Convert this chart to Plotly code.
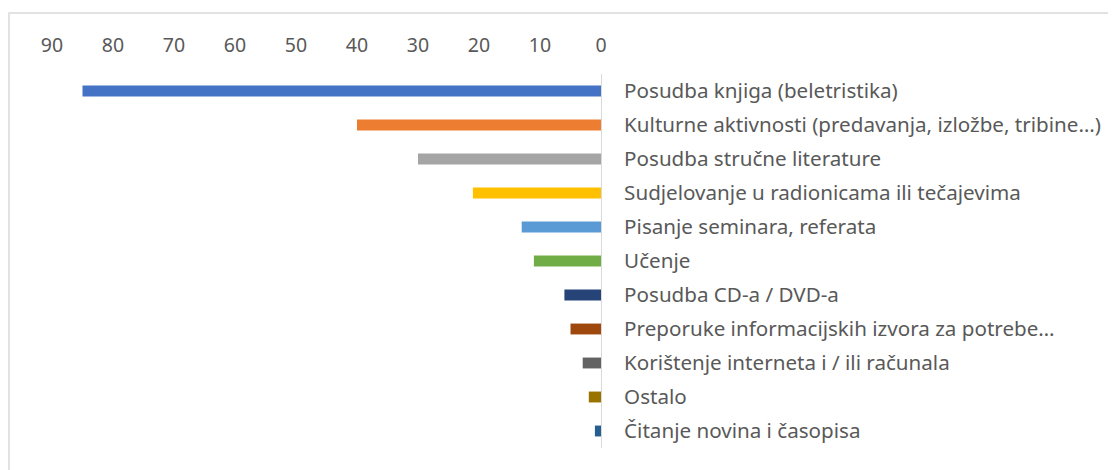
import plotly.graph_objects as go

categories = [
    "Posudba knjiga (beletristika)",
    "Kulturne aktivnosti (predavanja, izložbe, tribine…)",
    "Posudba stručne literature",
    "Sudjelovanje u radionicama ili tečajevima",
    "Pisanje seminara, referata",
    "Učenje",
    "Posudba CD-a / DVD-a",
    "Preporuke informacijskih izvora za potrebe…",
    "Korištenje interneta i / ili računala",
    "Ostalo",
    "Čitanje novina i časopisa",
]
values = [85, 40, 30, 21, 13, 11, 6, 5, 3, 2, 1]
colors = ["#4472C4", "#ED7D31", "#A5A5A5", "#FFC000", "#5B9BD5", "#70AD47",
          "#264478", "#9E480E", "#636363", "#997300", "#255E91"]
tick_vals = [0, 10, 20, 30, 40, 50, 60, 70, 80, 90]

W, H = 1116, 470
OFF = 8  # page body margin
L, R, T, B = 52 - OFF, 601 - OFF, 74 - OFF, 448 - OFF

fig = go.Figure(go.Bar(
    x=values, y=categories, orientation="h",
    marker=dict(color=colors, line=dict(width=0)),
    width=0.32,
))

fig.update_layout(
    width=W, height=H,
    margin=dict(l=L, r=W - R, t=T, b=H - B),
    paper_bgcolor="white", plot_bgcolor="white",
    showlegend=False,
    font=dict(family="Noto Sans", color="#595959", size=20),
    xaxis=dict(
        range=[90, 0], side="top", tickvals=tick_vals,
        showgrid=False, zeroline=False, showline=False,
        ticks="", tickfont=dict(size=19.5, color="#595959"),
        ticklabelstandoff=17,
    ),
    yaxis=dict(
        categoryorder="array", categoryarray=categories[::-1],
        side="right", showgrid=False, zeroline=False,
        showline=True, linecolor="#d9d9d9", linewidth=1,
        ticks="", ticklabelstandoff=18,
        tickfont=dict(size=20.6, color="#595959"),
        range=[-0.5, 10.5],
    ),
)

# chart border
fig.add_shape(
    type="rect", xref="paper", yref="paper",
    x0=(1 - L) / (R - L), x1=(W + 20 - L) / (R - L),
    y0=-(H + 20 - B) / (B - T), y1=1 + (T - 5) / (B - T),
    line=dict(color="#d9d9d9", width=1.5), fillcolor="rgba(0,0,0,0)",
    layer="below",
)

fig.write_html("out.html")
